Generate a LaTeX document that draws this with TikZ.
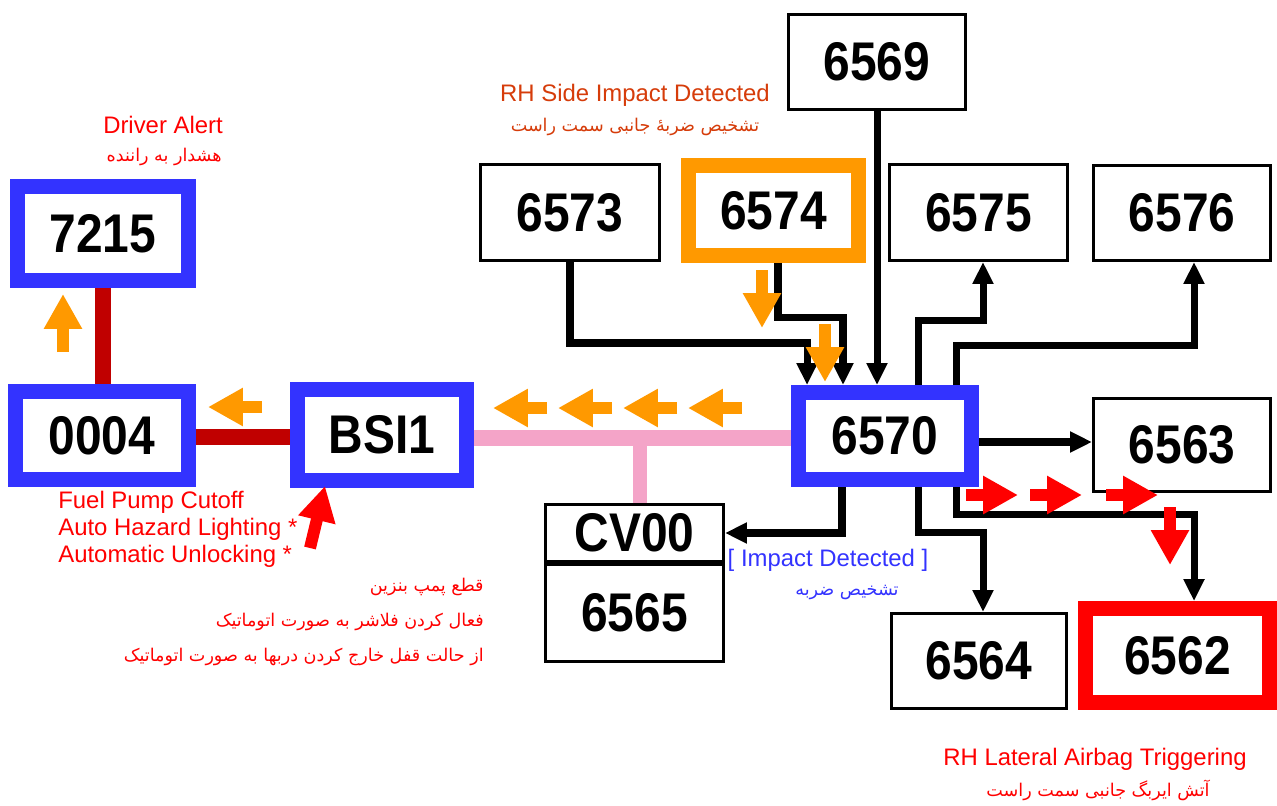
\documentclass[tikz,border=0pt]{standalone}
\usepackage{fontspec}
\usepackage{tikz}
\usetikzlibrary{arrows.meta,calc}
\setmainfont{Liberation Sans}
\newfontfamily\idfont{Liberation Sans Bold}[FakeStretch=0.88]
\newfontfamily\fa[Script=Arabic]{DejaVu Sans}
\TeXXeTstate=1
\definecolor{framebl}{RGB}{51,51,255}
\definecolor{frameor}{RGB}{255,153,0}
\definecolor{linkred}{RGB}{192,0,0}
\definecolor{buspink}{RGB}{244,164,200}
\definecolor{sidered}{RGB}{214,60,10}

\begin{document}
\begin{tikzpicture}[x=0.02cm,y=-0.02cm,
  idbox/.style={draw,line width=1.7pt,fill=white,inner sep=0pt,font=\idfont\fontsize{31}{31}\selectfont},
  hotbox/.style={idbox,draw=#1,line width=8.5pt},
  conn/.style={line width=4pt,-{Triangle[length=12.5pt,width=11.3pt]}},
  blockarr/.style={line width=6.8pt,draw=#1,-{Triangle[length=19.8pt,width=20.4pt]}},
  note/.style={font=\fontsize{13.6}{15.3}\selectfont,text=#1,inner sep=0pt},
  fanote/.style={font=\fa\fontsize{10}{12}\selectfont,text=#1,inner sep=0pt}]
\useasboundingbox[fill=white] (0,0) rectangle (1277,805);

% framed units
\node[hotbox=framebl,minimum width={171*0.02cm},minimum height={94*0.02cm}] (n7215) at (103,233.5) {7215};
\node[hotbox=framebl,minimum width={173*0.02cm},minimum height={88*0.02cm}] (n0004) at (102,435.5) {0004};
\node[hotbox=framebl,minimum width={169*0.02cm},minimum height={91*0.02cm}] (nBSI1) at (382,435) {BSI1};
\node[hotbox=framebl,minimum width={173*0.02cm},minimum height={87*0.02cm}] (n6570) at (885,436) {6570};
\node[hotbox=frameor,minimum width={170*0.02cm},minimum height={90*0.02cm}] (n6574) at (773.5,210.5) {6574};
\node[hotbox=red,minimum width={184*0.02cm},minimum height={94*0.02cm}] (n6562) at (1177.5,655.5) {6562};

% plain units
\node[idbox,minimum width={177*0.02cm},minimum height={95*0.02cm}] (n6569) at (877,62) {6569};
\node[idbox,minimum width={179*0.02cm},minimum height={96*0.02cm}] (n6573) at (570,212.5) {6573};
\node[idbox,minimum width={178*0.02cm},minimum height={96*0.02cm}] (n6575) at (978.5,212.5) {6575};
\node[idbox,minimum width={177*0.02cm},minimum height={95*0.02cm}] (n6576) at (1182,213) {6576};
\node[idbox,minimum width={177*0.02cm},minimum height={93*0.02cm}] (n6563) at (1182,445) {6563};
\node[idbox,minimum width={178*0.02cm},minimum height={57*0.02cm}] (nCV00) at (634.5,533) {CV00};
\node[idbox,minimum width={178*0.02cm},minimum height={97*0.02cm}] (n6565) at (634.5,613) {6565};
\node[idbox,minimum width={175*0.02cm},minimum height={95*0.02cm}] (n6564) at (979,661) {6564};

% buses
\draw[linkred,line width=9.3pt] (n7215.south) -- (n7215.south |- n0004.north);
\draw[linkred,line width=9.3pt] (n0004.east) ++(0,1.5) coordinate (l1) -- (l1 -| nBSI1.west);
\draw[buspink,line width=9.6pt] (nBSI1.east) ++(0,3) coordinate (b1) -- (b1 -| n6570.west);
\draw[buspink,line width=8pt] (nCV00.north) ++(5.5,0) coordinate (b2) -- (b2 |- b1);

% messages into 6570
\draw[conn] (n6573.south) -- ++(0,81) -| ($(n6570.north west)+(16,0)$);
\draw[conn] (n6574.south) ++(4.5,0) -- ++(0,55) -| ($(n6570.north)+(-42,0)$);
\draw[conn] (n6569.south) -- (n6569.south |- n6570.north);

% messages out of 6570
\draw[conn] ($(n6570.north)+(33,0)$) -- ++(0,-65) -| ($(n6575.south)+(4.5,0)$);
\draw[conn] ($(n6570.north)+(71,0)$) -- ++(0,-40) -| ($(n6576.south)+(12,0)$);
\draw[conn] (n6570.east) ++(0,6) coordinate (c1) -- (c1 -| n6563.west);
\draw[conn] ($(n6570.south)+(-43,0)$) |- (nCV00.east);
\draw[conn] ($(n6570.south)+(33,0)$) -- ++(0,46) -| ($(n6564.north)+(4,0)$);
\draw[conn] ($(n6570.south)+(71,0)$) -- ++(0,28) -| ($(n6562.north)+(16.5,0)$);

% flow of the crash message
\draw[blockarr=frameor] (63,352) -- (63,294);
\draw[blockarr=frameor] (262,407) -- (208,407);
\foreach \x in {547,612,677,742}
  \draw[blockarr=frameor] (\x,408) -- ++(-54,0);
\draw[blockarr=frameor] (762,270) -- (762,328);
\draw[blockarr=frameor] (825,324) -- (825,382);
\foreach \x in {966,1030,1106}
  \draw[blockarr=red] (\x,495) -- ++(52,0);
\draw[blockarr=red] (1170,507) -- (1170,565);
\draw[blockarr=red] (310,548) -- (325,486);

% labels
\node[note=red] (tAlert) at (163,125) {Driver Alert};
\node[fanote=red,anchor=east] (tAlertFa) at (222,157) {\beginR هشدار به راننده\endR};
\node[note=sidered] (tSide) at (635,95) {RH Side Impact Detected};
\node[fanote=sidered] (tSideFa) at (635,127) {\beginR تشخیص ضربهٔ جانبی سمت راست\endR};
\node[note=red,align=left,anchor=west] (tActions) at (58,529) {Fuel Pump Cutoff\\Auto Hazard Lighting *\\Automatic Unlocking *};
\node[fanote=red,anchor=east,align=right,font=\fa\fontsize{10}{20}\selectfont] (tActionsFa) at (484,622)
  {\beginR قطع پمپ بنزین\endR\\\beginR فعال کردن فلاشر به صورت اتوماتیک\endR\\\beginR از حالت قفل خارج کردن دربها به صورت اتوماتیک\endR};
\node[note=framebl] (tImpact) at (828,560) {[ Impact Detected ]};
\node[fanote=framebl] (tImpactFa) at (847,592) {\beginR تشخیص ضربه\endR};
\node[note=red] (tAirbag) at (1095,759) {RH Lateral Airbag Triggering};
\node[fanote=red] (tAirbagFa) at (1098,790) {\beginR آتش ایربگ جانبی سمت راست\endR};
\end{tikzpicture}
\end{document}
